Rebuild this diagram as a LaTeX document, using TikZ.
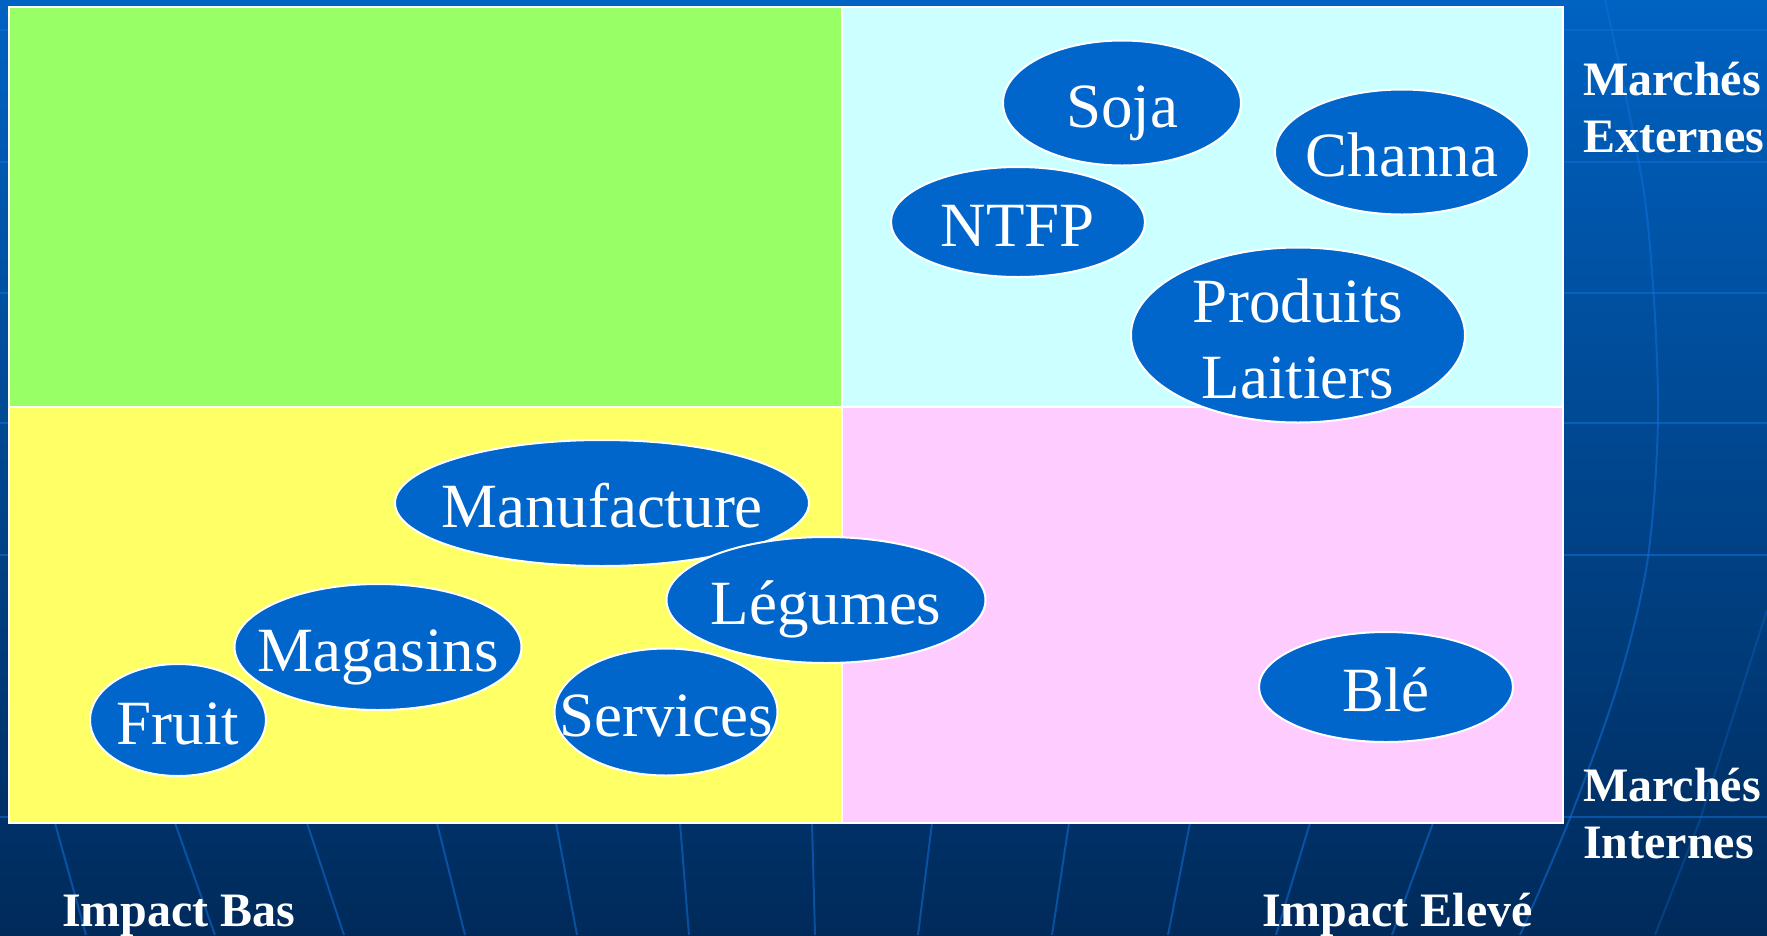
\documentclass[tikz,border=0pt]{standalone}
\usepackage{fontspec}
\setmainfont{Liberation Serif}
\usetikzlibrary{shapes.geometric}
\definecolor{bgtop}{HTML}{0062C2}
\definecolor{bgbot}{HTML}{002A5A}
\definecolor{gridblue}{HTML}{1070D8}
\definecolor{qgreen}{HTML}{99FF66}
\definecolor{qcyan}{HTML}{CCFFFF}
\definecolor{qyellow}{HTML}{FFFF66}
\definecolor{qpink}{HTML}{FFCCFF}
\definecolor{bubble}{HTML}{0066CC}
\begin{document}
\begin{tikzpicture}[x=1pt,y=-1pt,
  gridline/.style={draw=gridblue,opacity=0.55,line width=2pt},
  quad/.style={draw=white,line width=2pt},
  bub/.style={ellipse,draw=white,line width=2pt,fill=bubble,inner sep=0pt},
  txt/.style={text=white,inner sep=0pt,font=\fontsize{63}{76.5}\selectfont},
  one/.style={txt,text height=48.5pt,text depth=0pt},
  lab/.style={text=white,inner sep=0pt,align=left,font=\fontsize{48}{57}\selectfont\bfseries}]
\useasboundingbox (0,0) rectangle (1767,935);
\shade[top color=bgtop,bottom color=bgbot] (0,0) rectangle (1767,935);
% background grid
\foreach \yy in {30,162,293,423,555,817}
  \draw[gridline] (0,\yy) -- (1767,\yy);
\foreach \xa/\xb in {55/86,175/215,307/344,437/465,556/577,680/689,812/815,
                     932/918,1069/1052,1190/1168,1310/1276,1433/1392}
  \draw[gridline] (\xa,823) -- (\xb,935);
\draw[gridline] plot[smooth] coordinates {(1605,0) (1645,200) (1658,400) (1648,557) (1618,684) (1570,818) (1520,935)};
\draw[gridline,opacity=0.3] (1767,610) -- (1700,820) -- (1655,935);
% quadrants
\fill[qgreen] (9,7) rectangle (842,407);
\fill[qcyan] (842,7) rectangle (1563,407);
\fill[qyellow] (9,407) rectangle (842,823);
\fill[qpink] (842,407) rectangle (1563,823);
\draw[quad] (9,7) rectangle (1563,823);
\draw[quad] (842,7) -- (842,823);
\draw[quad] (9,407) -- (1563,407);
% bubbles
\node[bub,minimum width=238pt,minimum height=125pt,label={[one]center:Soja}] (soja) at (1122,103) {};
\node[bub,minimum width=254pt,minimum height=125pt,label={[one]center:Channa}] (channa) at (1402,152) {};
\node[bub,minimum width=254pt,minimum height=110pt,label={[one]center:NTFP}] (ntfp) at (1018,222) {};
\node[bub,minimum width=334pt,minimum height=175pt,label={[txt,align=center,yshift=-4pt]center:Produits\\Laitiers}] (prod) at (1298,335) {};
\node[bub,minimum width=414pt,minimum height=126pt,label={[one]center:Manufacture}] (manu) at (602,503) {};
\node[bub,minimum width=319pt,minimum height=126pt,label={[one]center:Légumes}] (leg) at (826,600) {};
\node[bub,minimum width=287pt,minimum height=126pt,label={[one]center:Magasins}] (mag) at (378,647) {};
\node[bub,minimum width=176pt,minimum height=112pt,label={[one]center:Fruit}] (fruit) at (178,720) {};
\node[bub,minimum width=223pt,minimum height=127pt,label={[one]center:Services}] (serv) at (666,712) {};
\node[bub,minimum width=254pt,minimum height=110pt,label={[one]center:Blé}] (ble) at (1386,687) {};
% labels
\node[lab,anchor=west] (mext) at (1583,108) {Marchés\\Externes};
\node[lab,anchor=west] (mint) at (1583,814) {Marchés\\Internes};
\node[lab,anchor=base west] (ibas) at (62,926) {Impact Bas};
\node[lab,anchor=base west] (ielev) at (1262,926) {Impact Elevé};
\end{tikzpicture}
\end{document}
